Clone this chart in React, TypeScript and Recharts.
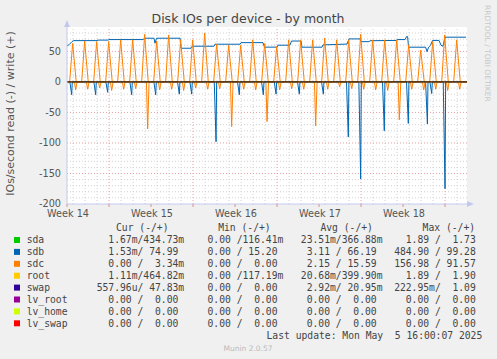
import React from 'react';
import { ComposedChart, Line, XAxis, YAxis, ReferenceLine } from 'recharts';

// time axis is in days from the left edge of the plot
const weekLabels = ['Week 14', 'Week 15', 'Week 16', 'Week 17', 'Week 18'];
const xTicks = [0, 3.5, 7, 10.5, 14, 17.5, 21, 24.5, 28, 31.5];
const yTicks = [-200, -150, -100, -50, 0, 50];

// sdb write (+), a stepped level
const sdbWrite: [number, number][] = [
  [0, 59], [0.17, 61], [0.42, 66], [0.54, 67.7], [2.5, 67.7], [2.58, 68.5], [3.42, 68.5], [3.5, 69.4],
  [6.33, 69.4], [6.5, 71.6], [7.25, 71.6], [7.33, 63.4], [7.46, 71.6], [9.42, 71.6], [9.5, 55.2],
  [10.33, 55.2], [10.42, 58.5], [12.25, 58.5], [12.33, 61.8], [14.42, 61.8], [14.5, 64.4], [16.33, 64.4],
  [16.46, 57], [17.5, 57], [17.58, 60.2], [18.58, 60.2], [18.71, 67], [19.5, 67], [19.58, 56.9],
  [21.25, 56.9], [21.33, 60.7], [23.33, 62], [23.5, 70.5], [24.42, 70.5], [24.5, 66], [25.17, 66],
  [25.25, 67.5], [27.42, 68], [27.58, 69.4], [28.17, 69.4], [28.29, 74.3], [28.38, 74.3], [28.46, 56.9],
  [29.88, 56.9], [30, 49.7], [30.13, 56.9], [30.29, 60], [30.46, 68], [31, 68], [31.17, 60],
  [31.33, 58.5], [31.5, 73.3], [33.25, 73.3]
];

// sdb read (-) spikes: [day, value]
const sdbReadSpikes: [number, number][] = [
  [0.39, -21], [2.39, -21], [3.39, -17], [5.39, -21], [7.39, -21], [9.36, -20], [10.39, -20],
  [12.42, -98], [14.36, -21], [16.36, -21], [17.42, -20], [19.36, -20], [21.36, -20], [23.44, -90],
  [24.47, -159], [26.44, -80], [28.44, -68], [30.03, -69], [30.39, -19], [31.5, -175]
];

// sdc write (+) daily peaks
const sdcWritePeaks: [number, number][] = [
  [0.47, 63], [1.47, 67], [2.47, 66], [3.47, 66], [4.47, 69], [5.47, 69], [6.47, 78], [7.47, 67],
  [8.47, 77], [9.47, 69], [10.47, 69], [11.47, 80], [12.47, 62], [13.47, 60], [14.47, 60], [15.47, 69],
  [16.47, 63], [17.47, 58], [18.47, 69], [19.47, 69], [20.47, 69], [21.47, 72], [22.47, 69], [23.47, 69],
  [24.47, 78], [25.47, 69], [26.47, 69], [27.47, 69], [28.47, 61], [29.47, 52], [30.47, 66], [31.47, 77],
  [32.47, 69]
];

// sdc read (-) daily dips
const sdcReadDips: [number, number][] = [
  [0.72, -13], [1.72, -12], [2.72, -10], [3.72, -14], [4.72, -12], [5.72, -11], [6.72, -77], [7.72, -13],
  [8.72, -12], [9.72, -14], [10.72, -10], [11.72, -12], [12.72, -11], [13.72, -73], [14.72, -12], [15.72, -13],
  [16.67, -65], [17.72, -13], [18.72, -11], [19.72, -12], [20.72, -72], [21.72, -12], [22.72, -8], [23.72, -11],
  [24.72, -12], [25.72, -13], [26.72, -14], [27.69, -62], [28.72, -12], [29.72, -13], [30.72, -12], [31.72, -14],
  [32.72, -12]
];

const legendRows = [
  { name: 'sda', color: '#00CC00', vals: ['1.67m', '434.73m', '0.00', '116.41m', '23.51m', '366.88m', '1.89', '1.73'] },
  { name: 'sdb', color: '#0066B3', vals: ['1.53m', '74.99', '0.00', '15.20', '3.11', '66.19', '484.90', '99.28'] },
  { name: 'sdc', color: '#FF8000', vals: ['0.00', '3.34m', '0.00', '0.00', '2.15', '15.59', '156.98', '91.57'] },
  { name: 'root', color: '#FFCC00', vals: ['1.11m', '464.82m', '0.00', '117.19m', '20.68m', '399.90m', '1.89', '1.90'] },
  { name: 'swap', color: '#330099', vals: ['557.96u', '47.83m', '0.00', '0.00', '2.92m', '20.95m', '222.95m', '1.09'] },
  { name: 'lv_root', color: '#990099', vals: ['0.00', '0.00', '0.00', '0.00', '0.00', '0.00', '0.00', '0.00'] },
  { name: 'lv_home', color: '#CCFF00', vals: ['0.00', '0.00', '0.00', '0.00', '0.00', '0.00', '0.00', '0.00'] },
  { name: 'lv_swap', color: '#FF0000', vals: ['0.00', '0.00', '0.00', '0.00', '0.00', '0.00', '0.00', '0.00'] }
];
const legendHeaders = ['Cur (-/+)', 'Min (-/+)', 'Avg (-/+)', 'Max (-/+)'];

const END = 33.33;

const spikes = (pts: [number, number][], before: number, after: number) => {
  const out = [{ t: 0, v: 0 }];
  pts.forEach(([t, v]) => {
    out.push({ t: t - before, v: 0 }, { t, v }, { t: t + after, v: 0 });
  });
  out.push({ t: END, v: 0 });
  return out;
};

const sdbWriteData = sdbWrite.map(([t, v]) => ({ t, v }));
const sdbReadData = spikes(sdbReadSpikes, 0.15, 0.05);
const sdcWriteData = spikes(sdcWritePeaks, 0.25, 0.3);
const sdcReadData = spikes(sdcReadDips, 0.1, 0.12);

// grid: minor every 10 IOs / every day, major every 50 IOs / every week
const minorY: number[] = [];
for (let v = -190; v <= 80; v += 10) if (v % 50 !== 0) minorY.push(v);
const minorX: number[] = [];
for (let d = 0.5; d < END; d += 1) if ((d - 3.5) % 7 !== 0) minorX.push(d);
const majorX = [3.5, 10.5, 17.5, 24.5, 31.5];

const fmt = (s: string) => {
  const unit = /[a-z]$/i.test(s) ? s.slice(-1) : ' ';
  const num = unit === ' ' ? s : s.slice(0, -1);
  return num.padStart(6) + unit;
};

const axisColor = '#c4c8ee';
const minorColor = '#d2d2d2';
const majorColor = '#eaa0a0';
const mono = '"DejaVu Sans Mono", monospace';
const sans = '"DejaVu Sans", sans-serif';

const App = () => {
  return <div style={{ position: 'absolute', left: 0, top: 0, width: 497, height: 359, background: '#f0f0f0', overflow: 'hidden' }}>
      <div style={{ position: 'absolute', left: 67, top: 27, width: 400, height: 177, background: '#ffffff' }} />
      <div style={{ position: 'absolute', left: 0, top: 0 }}>
        <ComposedChart width={497} height={359} margin={{
        top: 27,
        right: 30,
        bottom: 0,
        left: 0
      }}>
          <XAxis type="number" dataKey="t" domain={[0, END]} ticks={xTicks} interval={0} allowDataOverflow height={155}
            tickFormatter={(t: number) => t % 7 === 0 ? weekLabels[t / 7] : ''}
            axisLine={{ stroke: axisColor }} tickLine={{ stroke: '#e09090' }} tickSize={3} tickMargin={3}
            tick={{ fill: '#555', fontSize: 9.7, fontFamily: sans, dx: 1 }} />
          <YAxis type="number" domain={[-200, 90]} ticks={yTicks} interval={0} allowDataOverflow width={67}
            axisLine={{ stroke: axisColor }} tickLine={false} tickSize={4} tickMargin={2}
            tick={{ fill: '#555', fontSize: 9.7, fontFamily: sans }} />
          {minorY.map(v => <ReferenceLine key={'my' + v} y={v} stroke={minorColor} strokeDasharray="1 2" />)}
          {minorX.map(d => <ReferenceLine key={'mx' + d} x={d} stroke={minorColor} strokeDasharray="1 2" />)}
          {yTicks.filter(v => v !== -200).map(v => <ReferenceLine key={'My' + v} y={v} stroke={majorColor} strokeDasharray="1 2" />)}
          {majorX.map(d => <ReferenceLine key={'Mx' + d} x={d} stroke={majorColor} strokeDasharray="1 2" />)}
          <Line data={sdbWriteData} dataKey="v" type="linear" stroke="#0066B3" strokeWidth={1} dot={false} isAnimationActive={false} />
          <Line data={sdbReadData} dataKey="v" type="linear" stroke="#0066B3" strokeWidth={1} dot={false} isAnimationActive={false} />
          <Line data={sdcWriteData} dataKey="v" type="linear" stroke="#FF8000" strokeWidth={1} dot={false} isAnimationActive={false} />
          <Line data={sdcReadData} dataKey="v" type="linear" stroke="#FF8000" strokeWidth={1} dot={false} isAnimationActive={false} />
          <ReferenceLine y={0} stroke="#000000" strokeWidth={1} />
        </ComposedChart>
      </div>
      <svg width={497} height={359} style={{ position: 'absolute', left: 0, top: 0, pointerEvents: 'none' }}>
        <polygon points="64,27 70,27 67,20" fill={axisColor} />
        <polygon points="467,201 467,207 474,204" fill={axisColor} />
        <text x={248} y={22.5} textAnchor="middle" fontFamily={sans} fontSize={12.5} fill="#444">
          Disk IOs per device - by month
        </text>
        <text transform="translate(14,113.5) rotate(-90)" textAnchor="middle" fontFamily={sans} fontSize={11} fill="#555">
          IOs/second read (-) / write (+)
        </text>
        <text transform="translate(485,5) rotate(90)" fontFamily={sans} fontSize={7.5} fill="#c8c8c8">
          RRDTOOL / TOBI OETIKER
        </text>
        {legendHeaders.map((h, i) => <text key={h} x={116 + i * 102.2} y={230.7} fontFamily={mono} fontSize={9.7} fill="#444">{h}</text>)}
        {legendRows.map((r, i) => {
        const y = 243.3 + i * 11.9;
        const cells = [0, 1, 2, 3].map(c => fmt(r.vals[c * 2]) + '/' + fmt(r.vals[c * 2 + 1]));
        return <g key={r.name}>
              <rect x={14} y={y - 6.3} width={6} height={6} fill={r.color} />
              <text x={26.7} y={y} fontFamily={mono} fontSize={9.7} fill="#444" style={{ whiteSpace: 'pre' }}>
                {r.name.padEnd(12) + cells.join('  ')}
              </text>
            </g>;
      })}
        <text x={482.3} y={338.5} textAnchor="end" fontFamily={mono} fontSize={9.7} fill="#444" style={{ whiteSpace: 'pre' }}>
          {'Last update: Mon May  5 16:00:07 2025'}
        </text>
        <text x={248} y={350.5} textAnchor="middle" fontFamily={sans} fontSize={7.5} fill="#bbbbbb">Munin 2.0.57</text>
      </svg>
    </div>;
};

export default App;
